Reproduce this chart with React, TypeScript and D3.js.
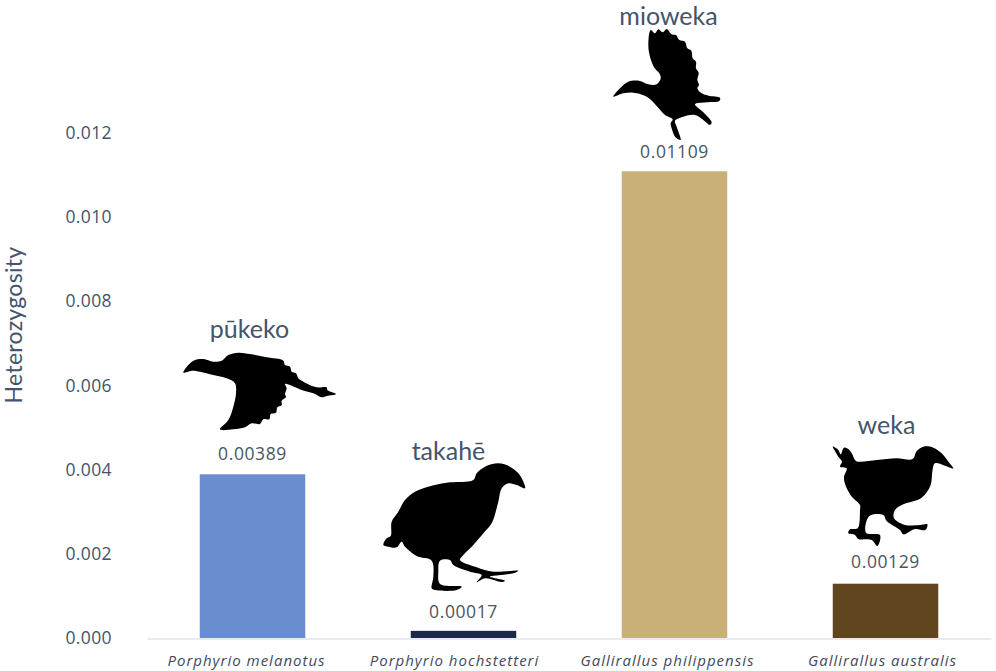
import React, { useEffect, useRef } from "react";
import * as d3 from "d3";

const species = ["Porphyrio melanotus", "Porphyrio hochstetteri", "Gallirallus philippensis", "Gallirallus australis"];
const commonNames = ["pūkeko", "takahē", "mioweka", "weka"];
const heterozygosity = [0.00389, 0.00017, 0.01109, 0.00129];
const valueLabels = ["0.00389", "0.00017", "0.01109", "0.00129"];
const barColors = ["#6a8dd0", "#1a2a48", "#c9b079", "#60451f"];
const yTicks = [0, 0.002, 0.004, 0.006, 0.008, 0.01, 0.012];

// hand placed label nudges, the original labels do not sit on a grid
const nameLift = [136, 171, 146, 150];
const nameShift = [-3, -15, -6, 1];
const valueLift = [14, 13, 13, 16];
const speciesShift = [-6, -9, -7, -3];

// hand traced bird outlines, each one in a 3x crop space and placed by its offset
const birds = [
    {
        dx: 170, dy: 310,
        pts: "40,188 55,165 75,150 100,147 130,155 155,152 175,135 205,128 240,132 290,142 340,152 345,165 360,170 365,185 378,190 385,205 405,218 440,232 470,232 472,240 498,252 470,258 455,262 430,250 395,240 345,222 350,235 345,252 348,262 335,272 335,285 322,292 318,308 302,312 298,328 280,328 270,342 245,340 225,352 190,358 150,358 175,330 190,290 198,250 195,220 170,205 130,195 90,185 65,182",
    },
    {
        dx: 370, dy: 430,
        pts: "40,345 50,325 62,318 65,275 85,245 105,210 135,185 175,170 230,158 310,150 320,130 345,110 385,100 420,110 445,130 460,155 465,175 440,165 415,160 395,175 385,215 365,280 340,310 310,345 280,375 270,390 320,412 370,425 445,422 430,430 385,436 360,440 405,452 395,456 345,445 320,457 335,435 300,425 250,405 240,390 210,392 205,425 210,462 275,470 260,480 195,480 185,475 190,440 185,392 140,378 105,350 95,335 80,352 55,350",
    },
    {
        dx: 600, dy: 0,
        pts: "40,290 60,265 85,245 120,243 145,253 170,253 182,235 178,220 163,203 150,170 145,135 152,90 165,100 175,88 188,97 200,87 215,103 228,105 238,120 255,125 262,145 274,152 278,175 288,185 288,205 296,218 292,240 297,255 292,265 305,280 325,287 360,293 358,303 320,307 285,313 310,337 335,367 330,375 310,360 285,345 250,350 225,362 230,380 242,420 225,410 215,385 212,370 218,358 195,345 170,318 145,293 120,282 100,278 70,280",
    },
    {
        dx: 820, dy: 435,
        pts: "38,35 55,45 62,58 72,38 88,45 97,58 108,78 170,75 230,70 278,72 290,48 310,35 340,38 365,55 385,80 400,100 375,92 345,85 337,110 332,150 305,188 250,208 225,225 222,250 255,270 300,270 322,268 316,285 285,282 250,298 240,285 200,258 190,240 148,243 138,293 180,300 172,333 155,315 115,312 105,300 85,295 90,283 113,280 120,225 120,210 93,182 75,147 72,125 80,100 60,95 66,80 55,65 46,50",
    },
];

const App = () => {
    const svgRef = useRef<SVGSVGElement>(null);

    useEffect(() => {
        const svg = d3.select(svgRef.current);
        svg.selectAll("*").remove();

        const font = "'Open Sans', sans-serif";
        const nameFont = "Lato, sans-serif";
        const textColor = "#44546a";

        const x = d3.scaleBand().domain(species).range([147, 991]).paddingInner(0.5).paddingOuter(0.25);
        const y = d3.scaleLinear().domain([0, 0.012]).range([638, 133]);

        // y axis, labels only
        svg.append("g")
            .attr("transform", "translate(147,0)")
            .call(d3.axisLeft(y).tickValues(yTicks).tickFormat(d3.format(".3f")).tickSize(0).tickPadding(35))
            .call((g) => g.select(".domain").remove())
            .call((g) =>
                g.selectAll("text")
                    .attr("font-family", font)
                    .attr("font-size", 17.5)
                    .attr("letter-spacing", 0.4)
                    .attr("fill", textColor)
            );

        svg.append("text")
            .attr("transform", "translate(22,325) rotate(-90)")
            .attr("text-anchor", "middle")
            .attr("font-family", nameFont)
            .attr("font-size", 23)
            .attr("letter-spacing", 0.3)
            .attr("fill", textColor)
            .text("Heterozygosity");

        // bars
        svg.append("g")
            .selectAll("rect")
            .data(heterozygosity)
            .enter()
            .append("rect")
            .attr("x", (_, i) => x(species[i]))
            .attr("y", (d) => y(d))
            .attr("width", x.bandwidth())
            .attr("height", (d) => y(0) - y(d))
            .attr("fill", (_, i) => barColors[i]);

        // x axis
        svg.append("g")
            .attr("transform", "translate(0,638.5)")
            .call(d3.axisBottom(x).tickSize(0).tickPadding(17))
            .call((g) => g.select(".domain").attr("stroke", "#e1e4ec").attr("stroke-width", 1.5))
            .call((g) =>
                g.selectAll("text")
                    .attr("dx", (_, i) => speciesShift[i])
                    .attr("font-family", font)
                    .attr("font-size", 15)
                    .attr("font-style", "italic")
                    .attr("letter-spacing", 1)
                    .attr("fill", "#3f4a5a")
            );

        // value labels
        svg.append("g")
            .selectAll("text")
            .data(heterozygosity)
            .enter()
            .append("text")
            .attr("x", (_, i) => x(species[i]) + x.bandwidth() / 2)
            .attr("y", (d, i) => y(d) - valueLift[i])
            .attr("text-anchor", "middle")
            .attr("font-family", font)
            .attr("font-size", 17.5)
            .attr("letter-spacing", 0.6)
            .attr("fill", "#4a5563")
            .text((_, i) => valueLabels[i]);

        // bird silhouettes
        const outline = d3.line().curve(d3.curveCatmullRomClosed.alpha(0.5));
        svg.append("g")
            .selectAll("path")
            .data(birds)
            .enter()
            .append("path")
            .attr("transform", (b) => `translate(${b.dx},${b.dy}) scale(${1 / 3})`)
            .attr("d", (b) => outline(b.pts.split(" ").map((p) => p.split(",").map(Number) as [number, number])))
            .attr("fill", "#000");

        // common names
        svg.append("g")
            .selectAll("text")
            .data(commonNames)
            .enter()
            .append("text")
            .attr("x", (_, i) => x(species[i]) + x.bandwidth() / 2 + nameShift[i])
            .attr("y", (_, i) => y(heterozygosity[i]) - nameLift[i])
            .attr("text-anchor", "middle")
            .attr("font-family", nameFont)
            .attr("font-size", 25)
            .attr("fill", textColor)
            .text((d) => d);
    }, []);

    return (
        <svg
            ref={svgRef}
            width={996}
            height={671}
            style={{ position: "absolute", left: 0, top: 0, background: "#fff" }}
        ></svg>
    );
};

export default App;
